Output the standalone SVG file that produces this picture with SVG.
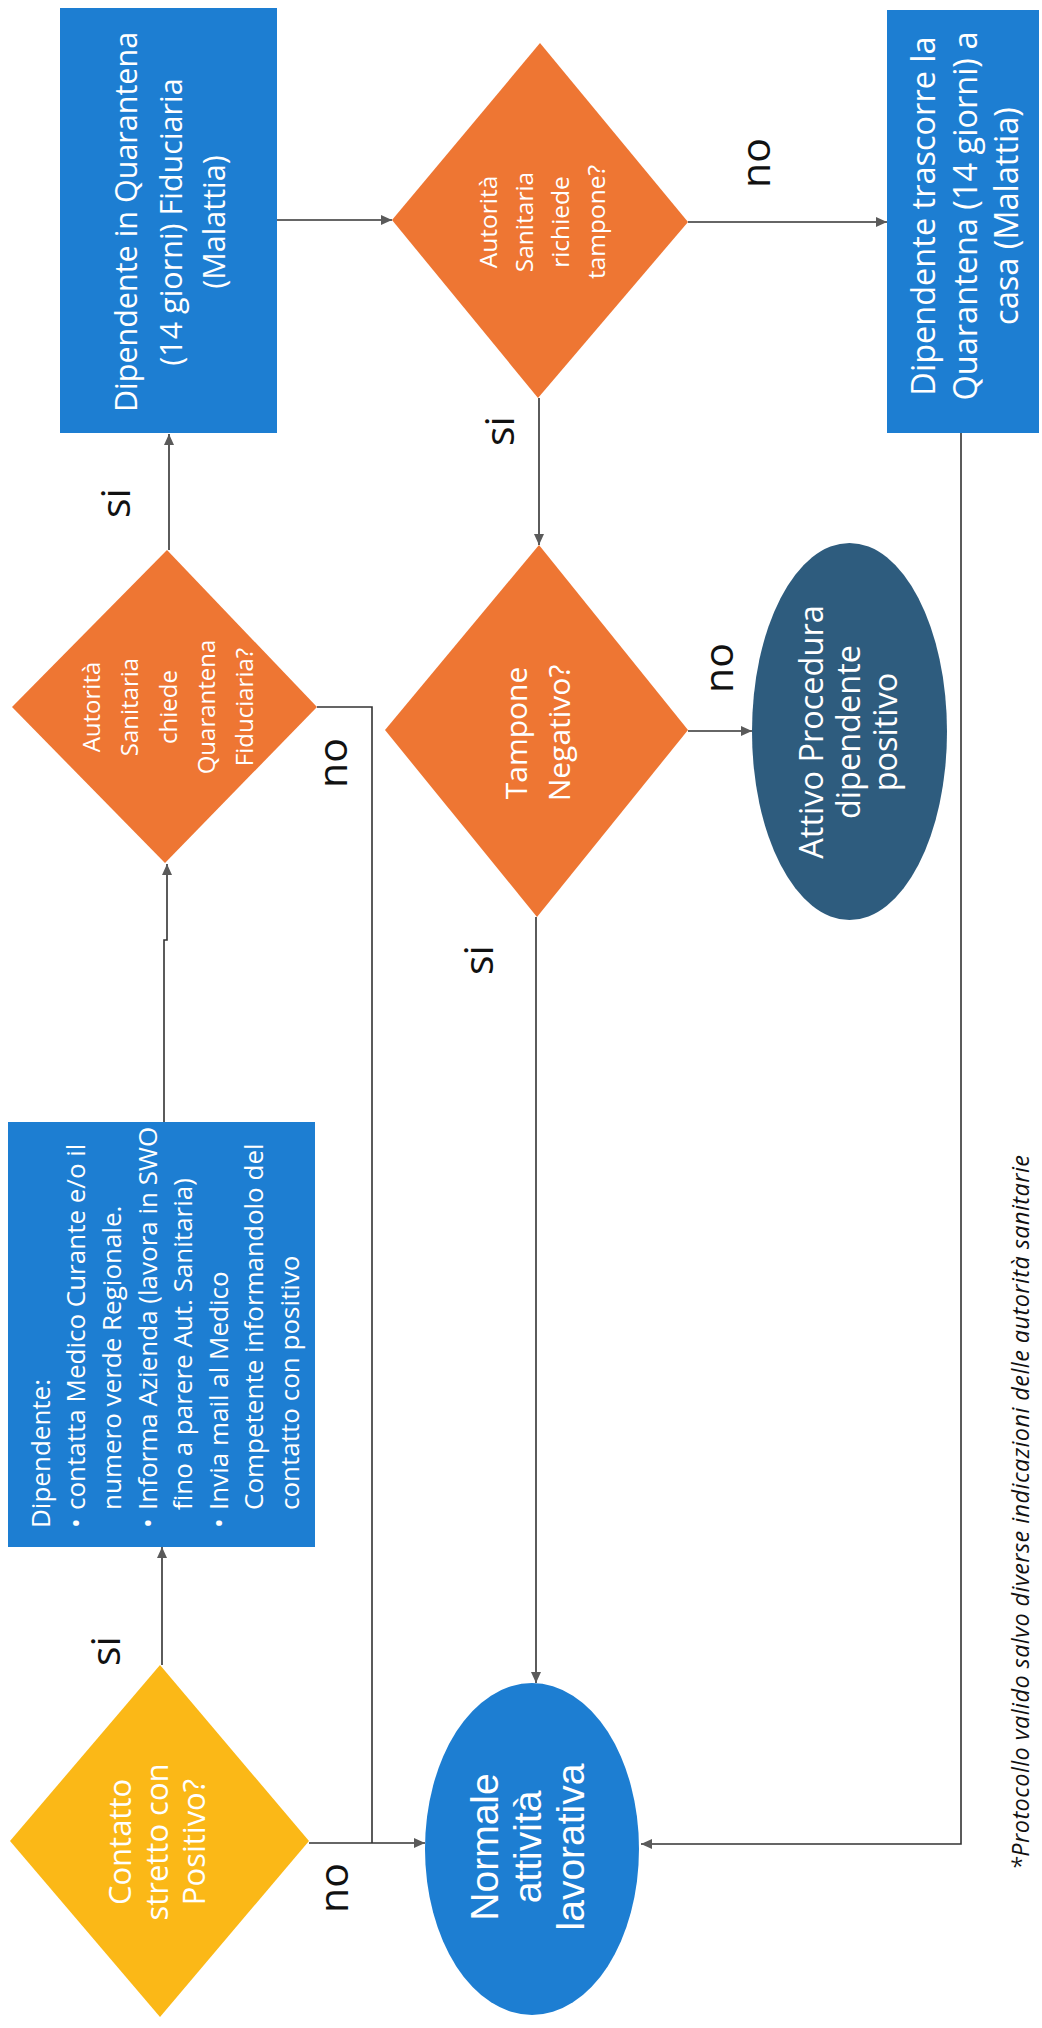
<svg xmlns="http://www.w3.org/2000/svg" width="1042" height="2028" viewBox="0 0 1042 2028">
<defs>
<marker id="arr" markerWidth="12" markerHeight="10" refX="11" refY="5" orient="auto" markerUnits="userSpaceOnUse">
<path d="M0,0 L11,5 L0,10 z" fill="#5a5a5a"/>
</marker>
<style>
.bg{fill:#ffffff}
.conn{fill:none;stroke:#333333;stroke-width:1.6}
.blue{fill:#1D7ED2}
.orange{fill:#EE7633}
.yellow{fill:#FBB817}
.dark{fill:#2E5C7E}
.t{font-family:"Open Sans","Noto Sans","DejaVu Sans",sans-serif;fill:#ffffff}
.ta{font-family:"Liberation Sans",Arial,sans-serif;fill:#ffffff}
.lbl{font-family:"Open Sans","Noto Sans","DejaVu Sans",sans-serif;fill:#111111;font-size:41px;text-anchor:middle}
.note{font-family:"Open Sans","Noto Sans","DejaVu Sans",sans-serif;fill:#111111;font-size:23.5px;font-style:italic}
</style>
</defs>
<rect class="bg" x="0" y="0" width="1042" height="2028"/>

<g id="connectors">
<path class="conn" d="M162,1665 V1547" marker-end="url(#arr)"/>
<path class="conn" d="M164,1122 V940 H167 V864" marker-end="url(#arr)"/>
<path class="conn" d="M169,550 V434" marker-end="url(#arr)"/>
<path class="conn" d="M277,220 H392" marker-end="url(#arr)"/>
<path class="conn" d="M688,222 H887" marker-end="url(#arr)"/>
<path class="conn" d="M539,398 V545" marker-end="url(#arr)"/>
<path class="conn" d="M688,731 H752" marker-end="url(#arr)"/>
<path class="conn" d="M536,917 V1683" marker-end="url(#arr)"/>
<path class="conn" d="M309,1843 H425" marker-end="url(#arr)"/>
<path class="conn" d="M317,707 H372 V1843"/>
<path class="conn" d="M961,433 V1844 H641" marker-end="url(#arr)"/>
</g>

<g id="n_contatto">
<polygon class="yellow" points="10,1841 160,1665 309,1841 160,2017"/>
<g transform="translate(0 1842) rotate(-90)" class="t" font-size="31" text-anchor="middle">
<text x="0" y="131">Contatto</text>
<text x="0" y="168">stretto con</text>
<text x="0" y="205">Positivo?</text>
</g>
</g>

<g id="n_dipendente_azioni">
<rect class="blue" x="8" y="1122" width="307" height="425"/>
<g transform="translate(0 1547) rotate(-90)" class="t" font-size="26">
<text x="19" y="50">Dipendente:</text>
<text x="19" y="85">•</text>
<text x="37" y="85">contatta Medico Curante e/o il</text>
<text x="37" y="121">numero verde Regionale.</text>
<text x="19" y="157">•</text>
<text x="37" y="157">Informa Azienda (lavora in SWO</text>
<text x="37" y="192">fino a parere Aut. Sanitaria)</text>
<text x="19" y="228">•</text>
<text x="37" y="228">Invia mail al Medico</text>
<text x="37" y="263">Competente informandolo del</text>
<text x="37" y="299">contatto con positivo</text>
</g>
</g>

<g id="n_chiede_quarantena">
<polygon class="orange" points="12,707 167,550 317,707 165,863"/>
<g transform="translate(0 707) rotate(-90)" class="t" font-size="24" text-anchor="middle">
<text x="0" y="100">Autorità</text>
<text x="0" y="138">Sanitaria</text>
<text x="0" y="177">chiede</text>
<text x="0" y="215">Quarantena</text>
<text x="0" y="253">Fiduciaria?</text>
</g>
</g>

<g id="n_quarantena_fiduciaria">
<rect class="blue" x="60" y="8" width="217" height="425"/>
<g transform="translate(0 222) rotate(-90)" class="t" font-size="30.5" text-anchor="middle">
<text x="0" y="137">Dipendente in Quarantena</text>
<text x="0" y="182">(14 giorni) Fiduciaria</text>
<text x="0" y="225">(Malattia)</text>
</g>
</g>

<g id="n_richiede_tampone">
<polygon class="orange" points="392,220 540,43 688,222 538,398"/>
<g transform="translate(0 222) rotate(-90)" class="t" font-size="24.5" text-anchor="middle">
<text x="0" y="497">Autorità</text>
<text x="0" y="533">Sanitaria</text>
<text x="0" y="569">richiede</text>
<text x="0" y="605">tampone?</text>
</g>
</g>

<g id="n_tampone_negativo">
<polygon class="orange" points="385,730 539,545 688,730 537,917"/>
<g transform="translate(0 733) rotate(-90)" class="t" font-size="30" text-anchor="middle">
<text x="0" y="527">Tampone</text>
<text x="0" y="570">Negativo?</text>
</g>
</g>

<g id="n_normale">
<ellipse class="blue" cx="532" cy="1849" rx="107" ry="166"/>
<g transform="translate(0 1847) rotate(-90)" class="ta" font-size="39" text-anchor="middle">
<text x="0" y="498">Normale</text>
<text x="0" y="541">attività</text>
<text x="0" y="584">lavorativa</text>
</g>
</g>

<g id="n_attivo_procedura">
<ellipse class="dark" cx="849.5" cy="731.5" rx="97.5" ry="188.5"/>
<g transform="translate(0 732) rotate(-90)" class="t" font-size="32.5" text-anchor="middle">
<text x="0" y="823">Attivo Procedura</text>
<text x="0" y="860">dipendente</text>
<text x="0" y="897">positivo</text>
</g>
</g>

<g id="n_quarantena_casa">
<rect class="blue" x="887" y="10" width="152" height="423"/>
<g transform="translate(0 216) rotate(-90)" class="t" font-size="32.5" text-anchor="middle">
<text x="0" y="935">Dipendente trascorre la</text>
<text x="0" y="977">Quarantena (14 giorni) a</text>
<text x="0" y="1018">casa (Malattia)</text>
</g>
</g>

<g id="labels">
<text class="lbl" transform="translate(0 1651) rotate(-90)" x="0" y="120">si</text>
<text class="lbl" transform="translate(0 1888) rotate(-90)" x="0" y="348">no</text>
<text class="lbl" transform="translate(0 503) rotate(-90)" x="0" y="130">si</text>
<text class="lbl" transform="translate(0 763) rotate(-90)" x="0" y="347">no</text>
<text class="lbl" transform="translate(0 431) rotate(-90)" x="0" y="514">si</text>
<text class="lbl" transform="translate(0 163) rotate(-90)" x="0" y="770">no</text>
<text class="lbl" transform="translate(0 668) rotate(-90)" x="0" y="733">no</text>
<text class="lbl" transform="translate(0 960) rotate(-90)" x="0" y="493">si</text>
</g>

<g id="footnote">
<text class="note" transform="translate(0 1870) rotate(-90)" x="0" y="1029" textLength="715" lengthAdjust="spacing">*Protocollo valido salvo diverse indicazioni delle autorità sanitarie</text>
</g>
</svg>
